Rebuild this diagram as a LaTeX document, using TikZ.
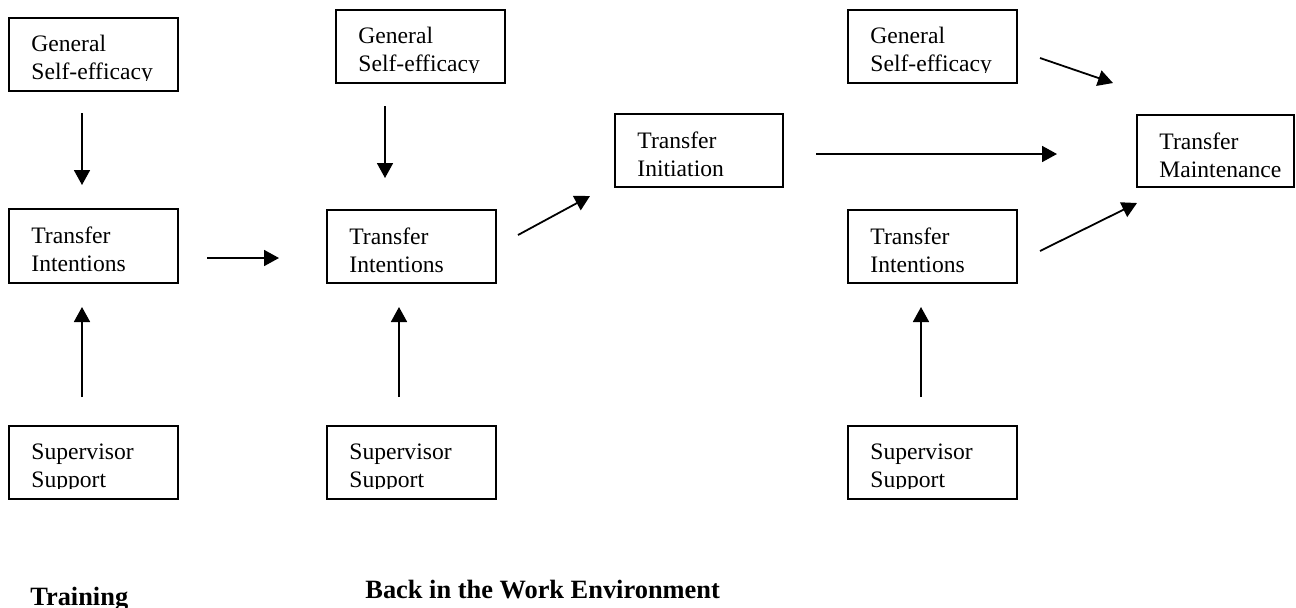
\documentclass[tikz,border=0pt]{standalone}
\usepackage{fontspec}
\setmainfont{Liberation Serif}
\usetikzlibrary{arrows.meta,fit}
\tikzset{
  boxst/.style={draw, line width=0.9pt, inner sep=0pt},
  lbl/.style={inner sep=0pt, align=left, font=\fontsize{11.8}{14}\selectfont, anchor=north west},
  titlest/.style={inner sep=0pt, anchor=base west, font=\fontsize{13.2}{15}\selectfont\bfseries},
  arr/.style={line width=0.9pt, -{Triangle[length=7.5pt,width=8pt]}},
}
\newcommand{\mkbox}[6]{%
  \coordinate (#1-nw) at (#2,#3);
  \coordinate (#1-se) at (#4,#5);
  \node[boxst, fit=(#1-nw)(#1-se)] (#1) {};
  \begin{scope}
    \clip (#2,#3) rectangle (#4,#3+62);
    \node[lbl] (#1-t) at (#2+22,#3+17) {#6};
  \end{scope}
}
\begin{document}
\begin{tikzpicture}[x=0.5pt,y=-0.5pt]
\useasboundingbox (0,0) rectangle (1296,607);

% boxes
\mkbox{gse1}{9}{18}{178}{91}{General\\Self-efficacy}
\mkbox{ti1}{9}{209}{178}{283}{Transfer\\Intentions}
\mkbox{ss1}{9}{426}{178}{499}{Supervisor\\Support}
\mkbox{gse2}{336}{10}{505}{83}{General\\Self-efficacy}
\mkbox{ti2}{327}{210}{496}{283}{Transfer\\Intentions}
\mkbox{ss2}{327}{426}{496}{499}{Supervisor\\Support}
\mkbox{init}{615}{114}{783}{187}{Transfer\\Initiation}
\mkbox{gse3}{848}{10}{1017}{83}{General\\Self-efficacy}
\mkbox{ti3}{848}{210}{1017}{283}{Transfer\\Intentions}
\mkbox{ss3}{848}{426}{1017}{499}{Supervisor\\Support}
\mkbox{maint}{1137}{115}{1294}{187}{Transfer\\Maintenance}

% arrow end points
\coordinate (c1a) at (82,113);   \coordinate (c1b) at (82,185);
\coordinate (c2a) at (385,106);  \coordinate (c2b) at (385,178);
\coordinate (u1a) at (82,397);   \coordinate (u1b) at (82,307);
\coordinate (u2a) at (399,397);  \coordinate (u2b) at (399,307);
\coordinate (u3a) at (921,397);  \coordinate (u3b) at (921,307);
\coordinate (h1a) at (207,258);  \coordinate (h1b) at (279,258);
\coordinate (d1a) at (518,235);  \coordinate (d1b) at (590,196);
\coordinate (h2a) at (816,154);  \coordinate (h2b) at (1057,154);
\coordinate (g3a) at (1040,58);  \coordinate (g3b) at (1113,83);
\coordinate (t3a) at (1040,251); \coordinate (t3b) at (1137,203);

\draw[arr] (c1a) -- (c1b);
\draw[arr] (c2a) -- (c2b);
\draw[arr] (u1a) -- (u1b);
\draw[arr] (u2a) -- (u2b);
\draw[arr] (u3a) -- (u3b);
\draw[arr] (h1a) -- (h1b);
\draw[arr] (d1a) -- (d1b);
\draw[arr] (h2a) -- (h2b);
\draw[arr] (g3a) -- (g3b);
\draw[arr] (t3a) -- (t3b);

% section titles
\node[titlest] (train) at (30,605) {Training};
\node[titlest] (back) at (365,598) {Back in the Work Environment};
\end{tikzpicture}
\end{document}
